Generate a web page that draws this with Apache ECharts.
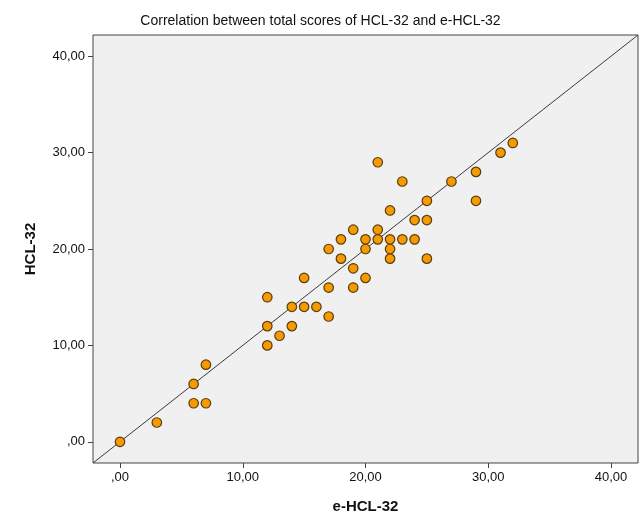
<!DOCTYPE html>
<html><head><meta charset="utf-8">
<script src="https://cdn.jsdelivr.net/npm/echarts@6/dist/echarts.min.js"></script>
<style>html,body{margin:0;padding:0;background:#fff}#c{width:641px;height:516px}</style>
</head><body><div id="c"></div>
<script>
var title = 'Correlation between total scores of HCL-32 and e-HCL-32';
var xName = 'e-HCL-32';
var yName = 'HCL-32';
var tickValues = [0, 10, 20, 30, 40];
var eHCL = [0,3,6,6,7,7,12,12,12,13,14,14,15,15,16,17,17,17,18,18,19,19,19,20,20,20,21,21,21,22,22,22,22,23,23,24,24,25,25,25,27,29,29,31,32];
var HCL  = [0,2,6,4,8,4,15,12,10,11,14,12,17,14,14,20,16,13,21,19,22,18,16,21,20,17,29,22,21,24,21,20,19,27,21,23,21,25,23,19,27,28,25,30,31];
var fitLine = [[-2.2,-2.2],[42.2,42.2]];
var axisMin = -2.2, axisMax = 42.2;

var pts = eHCL.map(function(v,i){return [v, HCL[i]];});
function fmt(v){ if (v === 0) return ',00'; return v.toFixed(2).replace('.', ','); }
var chart = echarts.init(document.getElementById('c'), null, {renderer:'canvas'});
var font = 'Liberation Sans, Arial';
chart.setOption({
  animation:false,
  backgroundColor:'#fff',
  title:{text:title, left:'center', top:9, textStyle:{fontFamily:font, fontSize:14, fontWeight:'normal', color:'#111'}},
  grid:{left:93, right:3, top:35, bottom:53, show:true, backgroundColor:'#f0f0f0', borderColor:'#444', borderWidth:1, containLabel:false, outerBoundsMode:'none'},
  xAxis:{type:'value', min:axisMin, max:axisMax, name:xName, nameLocation:'middle', nameGap:36,
    nameTextStyle:{fontFamily:font, fontSize:15, fontWeight:'bold', color:'#111'},
    axisLine:{show:false, onZero:false}, splitLine:{show:false},
    axisTick:{show:true, length:5, customValues:tickValues, lineStyle:{color:'#444'}},
    axisLabel:{customValues:tickValues, formatter:fmt, margin:8, fontFamily:font, fontSize:13, color:'#111'}},
  yAxis:{type:'value', min:axisMin, max:axisMax, name:yName, nameLocation:'middle', nameGap:55,
    nameTextStyle:{fontFamily:font, fontSize:15, fontWeight:'bold', color:'#111'},
    axisLine:{show:false, onZero:false}, splitLine:{show:false},
    axisTick:{show:true, length:5, customValues:tickValues, lineStyle:{color:'#444'}},
    axisLabel:{customValues:tickValues, formatter:fmt, margin:8, fontFamily:font, fontSize:13, color:'#111'}},
  series:[
    {type:'line', data:fitLine, symbol:'none', clip:true, lineStyle:{color:'#3a3a3a', width:1}, silent:true, z:1},
    {type:'scatter', data:pts, symbol:'circle', symbolSize:9.5, itemStyle:{color:'#f59b00', borderColor:'#5a3c10', borderWidth:1.2, opacity:1}, z:2}
  ]
});
</script></body></html>
